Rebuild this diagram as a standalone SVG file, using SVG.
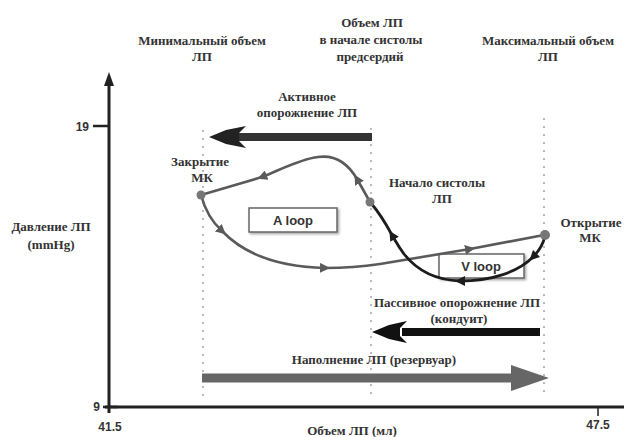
<svg xmlns="http://www.w3.org/2000/svg" width="624" height="437" viewBox="0 0 624 437">
<style>
.lbl{font-family:"Liberation Serif","Times New Roman",serif;font-weight:bold;font-size:13px;fill:#333;text-anchor:middle}
.num{font-family:"Liberation Sans",Arial,sans-serif;font-weight:bold;font-size:12px;fill:#333}
.box{fill:#fff;stroke:#666;stroke-width:1.5}
.boxt{font-family:"Liberation Sans",Arial,sans-serif;font-weight:bold;font-size:13px;fill:#333;text-anchor:middle}
.dot{stroke:#bbb;stroke-width:2;stroke-dasharray:2 6;fill:none}
.g{fill:none;stroke:#5a5a5a;stroke-width:2.6}
.k{fill:none;stroke:#1c1c1c;stroke-width:2.8}
.ga{marker-end:url(#ag)}
.ka{marker-end:url(#ak)}
</style>
<defs>
<marker id="ag" markerUnits="userSpaceOnUse" markerWidth="12" markerHeight="10" refX="5" refY="5" orient="auto" viewBox="0 0 12 10">
<path d="M0,0 L10,5 L0,10 Z" fill="#5a5a5a"/>
</marker>
<marker id="ak" markerUnits="userSpaceOnUse" markerWidth="12" markerHeight="10" refX="5" refY="5" orient="auto" viewBox="0 0 12 10">
<path d="M0,0 L10,5 L0,10 Z" fill="#1c1c1c"/>
</marker>
<filter id="sh" x="-10%" y="-10%" width="130%" height="140%">
<feDropShadow dx="1.5" dy="1.5" stdDeviation="1" flood-color="#000" flood-opacity="0.35"/>
</filter>
</defs>
<rect width="624" height="437" fill="#fff"/>

<g id="axes">
<line x1="109" y1="82" x2="109" y2="413" stroke="#222" stroke-width="3"/>
<path d="M109,72 L104,86 L114,86 Z" fill="#222"/>
<line x1="105" y1="407" x2="624" y2="407" stroke="#222" stroke-width="3"/>
<line x1="93" y1="126" x2="108" y2="126" stroke="#222" stroke-width="2.5"/>
<line x1="103" y1="407" x2="118" y2="407" stroke="#222" stroke-width="2.5"/>
<line x1="598" y1="407" x2="598" y2="416" stroke="#222" stroke-width="1.5"/>
<text class="num" x="89" y="131" text-anchor="end">19</text>
<text class="num" x="100" y="411" text-anchor="end">9</text>
<text class="num" x="110" y="431" text-anchor="middle">41.5</text>
<text class="num" x="598" y="429" text-anchor="middle">47.5</text>
<text class="lbl" x="51" y="231">Давление ЛП</text>
<text class="lbl" x="51" y="249">(mmHg)</text>
<text class="lbl" x="352" y="435">Объем ЛП (мл)</text>
</g>

<g id="guides">
<line class="dot" x1="203" y1="130" x2="203" y2="396"/>
<line class="dot" x1="371" y1="128" x2="371" y2="396"/>
<line class="dot" x1="544" y1="118" x2="544" y2="396"/>
</g>

<g id="top-labels">
<text class="lbl" x="202" y="45">Минимальный объем</text>
<text class="lbl" x="202" y="61">ЛП</text>
<text class="lbl" x="372" y="27">Объем ЛП</text>
<text class="lbl" x="371" y="44">в начале систолы</text>
<text class="lbl" x="370" y="61">предсердий</text>
<text class="lbl" x="548" y="45">Максимальный объем</text>
<text class="lbl" x="548" y="61">ЛП</text>
</g>

<g id="active-emptying">
<text class="lbl" x="307" y="101">Активное</text>
<text class="lbl" x="307" y="117">опорожнение ЛП</text>
<line x1="372" y1="137" x2="238" y2="137" stroke="#333" stroke-width="8"/>
<path d="M209,137 L226,130 L246,126 L239,133 L239,141 L246,148 L226,144 Z" fill="#222"/>
</g>

<g id="passive-emptying">
<text class="lbl" x="457" y="307">Пассивное опорожнение ЛП</text>
<text class="lbl" x="459" y="323">(кондуит)</text>
<line x1="540" y1="332" x2="402" y2="332" stroke="#111" stroke-width="8"/>
<path d="M372,332 L389,325 L407,321 L400,328 L400,336 L407,343 L389,339 Z" fill="#111"/>
</g>

<g id="filling">
<text class="lbl" x="374" y="364">Наполнение ЛП (резервуар)</text>
<line x1="202" y1="378" x2="514" y2="378" stroke="#666" stroke-width="9"/>
<path d="M511,365 L549,378 L511,391 Z" fill="#666"/>
</g>

<g id="a-loop-box">
<rect class="box" x="249" y="208" width="88" height="24" filter="url(#sh)"/>
<text class="boxt" x="293" y="225">A loop</text>
</g>
<g id="v-loop-box">
<rect class="box" x="439" y="254" width="85" height="24" filter="url(#sh)"/>
<text class="boxt" x="481" y="271">V loop</text>
</g>

<g id="connectors">
<path class="g ga" d="M370,202 C365,193 361,186 357,179"/>
<path class="g ga" d="M357,179 C346,160 333,155 318,157 C300,159 280,170 262,177"/>
<path class="g" d="M262,177 L201,195"/>
<path class="g ga" d="M201,195 C205,210 212,222 222,231"/>
<path class="g ga" d="M222,231 C245,255 280,267 325,268"/>
<path class="g ga" d="M325,268 C345,268 360,267 380,264 L470,249"/>
<path class="g" d="M470,249 L544,235"/>
<path class="k ka" d="M545,236 C543,245 539,251 533,257"/>
<path class="k ka" d="M533,257 C518,272 492,281 460,281"/>
<path class="k ka" d="M460,281 C432,280 415,268 404,254 C398,246 395,240 392,235"/>
<path class="k" d="M392,235 C385,222 377,210 370,202"/>
</g>

<g id="node-mv-close">
<circle cx="201" cy="195" r="4.5" fill="#777"/>
<text class="lbl" x="200" y="166">Закрытие</text>
<text class="lbl" x="202" y="182">МК</text>
</g>
<g id="node-la-systole">
<circle cx="370" cy="202" r="4.5" fill="#777"/>
<text class="lbl" x="437" y="187">Начало систолы</text>
<text class="lbl" x="442" y="203">ЛП</text>
</g>
<g id="node-mv-open">
<circle cx="545" cy="235" r="5" fill="#777"/>
<text class="lbl" x="591" y="227">Открытие</text>
<text class="lbl" x="590" y="242">МК</text>
</g>
</svg>
